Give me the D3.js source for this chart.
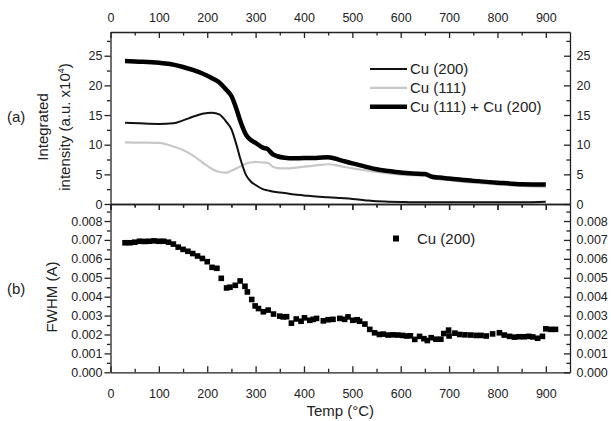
<!DOCTYPE html>
<html>
<head>
<meta charset="utf-8">
<script src="https://cdn.jsdelivr.net/npm/d3@7"></script>
<style>
  body { margin: 0; background: #fff; }
  svg { font-family: "Liberation Sans", Arial, sans-serif; }
  .axis text { font-size: 12.5px; fill: #222; }
  .axis path, .axis line { stroke: #222; stroke-width: 1.3; }
</style>
</head>
<body>
<svg width="611" height="421"></svg>
<script>
// top panel: integrated intensity (a.u. x10^4) vs temperature
const temps = [30, 60, 100, 130, 150, 170, 190, 210, 225, 240, 250, 260, 270, 280, 290, 300, 315, 325, 335, 345,
               360, 380, 400, 425, 450, 475, 500, 525, 550, 575, 600, 625, 650, 665, 680, 700, 750, 800, 850, 900];
const cu200 = [13.7, 13.6, 13.5, 13.6, 14.1, 14.7, 15.2, 15.4, 15.1, 13.8, 12.6, 10.1, 7.2, 4.9, 3.8, 3.2, 2.5, 2.3, 2.1, 2.0,
               1.85, 1.6, 1.45, 1.25, 1.15, 1.0, 0.85, 0.65, 0.45, 0.4, 0.35, 0.3, 0.3, 0.3, 0.3, 0.3, 0.3, 0.3, 0.3, 0.4];
const cu111 = [10.4, 10.35, 10.3, 9.7, 9.1, 8.2, 7.0, 5.9, 5.4, 5.3, 5.6, 6.0, 6.4, 6.8, 7.0, 7.1, 7.0, 6.95, 6.3, 6.05,
               6.0, 6.1, 6.3, 6.5, 6.7, 6.4, 6.0, 5.7, 5.4, 5.15, 4.95, 4.85, 4.75, 4.3, 4.15, 4.0, 3.6, 3.3, 3.05, 2.9];
const cuSum = [24.1, 24.0, 23.8, 23.5, 23.1, 22.6, 22.0, 21.2, 20.5, 19.2, 18.2, 16.1, 13.6, 11.7, 10.8, 10.3, 9.5, 9.25, 8.4, 8.05,
               7.8, 7.7, 7.75, 7.75, 7.9, 7.4, 6.85, 6.35, 5.85, 5.55, 5.3, 5.15, 5.05, 4.6, 4.45, 4.3, 3.9, 3.6, 3.35, 3.3];

// bottom panel: FWHM of Cu (200)
const fwhmTemps = [30, 40, 50, 60, 70, 80, 90, 100, 110, 120, 130, 140, 150, 160, 170, 180, 190, 200, 210, 220,
                   229, 240, 247, 258, 268, 278, 283, 292, 299, 306, 316, 326, 337, 350, 357, 364, 374, 384, 394, 401,
                   412, 419, 426, 440, 450, 460, 474, 484, 491, 501, 510, 515, 526, 536, 546, 556, 564, 574, 584, 594,
                   604, 612, 620, 629, 639, 648, 655, 663, 673, 683, 689, 699, 700, 712, 722, 733, 745, 756, 766, 777,
                   790, 804, 814, 825, 835, 845, 855, 865, 873, 883, 893, 900, 910, 920];
const fwhm = [0.00685, 0.00685, 0.00688, 0.00693, 0.00692, 0.00693, 0.00695, 0.00693, 0.00693, 0.00688, 0.00678, 0.00662, 0.0065, 0.0064, 0.00628, 0.00615, 0.00602, 0.00585, 0.00555, 0.0055,
              0.00497, 0.00446, 0.0045, 0.0046, 0.00483, 0.00455, 0.00425, 0.00385, 0.00351, 0.00337, 0.0032, 0.00329, 0.00308, 0.00297, 0.00293, 0.00294, 0.0026, 0.00282, 0.0027, 0.00288,
              0.00275, 0.0028, 0.00285, 0.00272, 0.00278, 0.0028, 0.00285, 0.0028, 0.00293, 0.00275, 0.00278, 0.0027, 0.00255, 0.00227, 0.00209, 0.002, 0.00202, 0.00197, 0.00198, 0.00197,
              0.00195, 0.00192, 0.00193, 0.00174, 0.0019, 0.00178, 0.00168, 0.00183, 0.00175, 0.00175, 0.00205, 0.00223, 0.00192, 0.00207, 0.002, 0.00198, 0.00197, 0.00195, 0.00195, 0.00192,
              0.00203, 0.00209, 0.00197, 0.0019, 0.00186, 0.00188, 0.00188, 0.0019, 0.00187, 0.0018, 0.0019, 0.0023, 0.00227, 0.00227];

const xMajor = [0, 100, 200, 300, 400, 500, 600, 700, 800, 900];
const xMinor = [50, 150, 250, 350, 450, 550, 650, 750, 850];
const yTopMajor = [0, 5, 10, 15, 20, 25];
const yTopMinor = [2.5, 7.5, 12.5, 17.5, 22.5, 27.5];
const yBotMajor = [0, 0.001, 0.002, 0.003, 0.004, 0.005, 0.006, 0.007, 0.008];
const yBotMinor = [0.0005, 0.0015, 0.0025, 0.0035, 0.0045, 0.0055, 0.0065, 0.0075, 0.0085];

const svg = d3.select("svg");

const left = 110.5, right = 570;
const x = d3.scaleLinear().domain([0, 950]).range([left, right]);
const yTop = d3.scaleLinear().domain([0, 29]).range([204, 32]);
const yBot = d3.scaleLinear().domain([0, 0.0089]).range([372.3, 204]);

// helper to draw a major + minor axis pair
function axisPair(axisFn, scale, major, minor, size, pad, fmt, tr, labels) {
    const g = svg.append("g").attr("class", "axis").attr("transform", tr);
    g.call(axisFn(scale).tickValues(major).tickSize(size).tickSizeOuter(0).tickPadding(pad)
        .tickFormat(labels ? fmt : () => ""));
    svg.append("g").attr("class", "axis").attr("transform", tr)
        .call(axisFn(scale).tickValues(minor).tickSize(size * 0.6).tickSizeOuter(0).tickFormat(() => ""))
        .select(".domain").remove();
    return g;
}

const fmtInt = d3.format("d"), fmt3 = d3.format(".3f");

// top panel axes
axisPair(d3.axisTop, x, xMajor, xMinor, -6, 10.5, fmtInt, `translate(0,${yTop.range()[1]})`, true);
axisPair(d3.axisBottom, x, xMajor, xMinor, 6, 3, fmtInt, `translate(0,${yTop.range()[0]})`, false);
axisPair(d3.axisLeft, yTop, yTopMajor, yTopMinor, 6, 2, fmtInt, `translate(${left},0)`, true);
axisPair(d3.axisRight, yTop, yTopMajor, yTopMinor, -6, 6.5, fmtInt, `translate(${right},0)`, true);

// bottom panel axes
axisPair(d3.axisTop, x, xMajor, xMinor, -6, 3, fmtInt, `translate(0,${yBot.range()[1]})`, false);
axisPair(d3.axisBottom, x, xMajor, xMinor, -6, 17, fmtInt, `translate(0,${yBot.range()[0]})`, true);
axisPair(d3.axisLeft, yBot, yBotMajor, yBotMinor, 6, 2, fmt3, `translate(${left},0)`, true);
axisPair(d3.axisRight, yBot, yBotMajor, yBotMinor, -6, 6.5, fmt3, `translate(${right},0)`, true);

// lines
const series = [
    {name: "Cu (200)", vals: cu200, color: "#111", width: 2},
    {name: "Cu (111)", vals: cu111, color: "#c8c8c8", width: 2.2},
    {name: "Cu (111) + Cu (200)", vals: cuSum, color: "#000", width: 4.5}
];
const line = d3.line().curve(d3.curveMonotoneX);

svg.append("g").selectAll("path")
    .data([series[1], series[0], series[2]])
    .join("path")
    .attr("fill", "none")
    .attr("stroke", d => d.color)
    .attr("stroke-width", d => d.width)
    .attr("stroke-linejoin", "round")
    .attr("d", d => line(temps.map((t, i) => [x(t), yTop(d.vals[i])])));

// top legend
const leg = svg.append("g");
series.forEach((s, i) => {
    const yy = 69 + i * 18.9;
    leg.append("line").attr("x1", 370).attr("x2", 407).attr("y1", yy).attr("y2", yy)
        .attr("stroke", s.color).attr("stroke-width", s.width);
    leg.append("text").attr("x", 410).attr("y", yy).attr("dy", "0.36em")
        .attr("font-size", 15).attr("fill", "#222").text(s.name);
});

// FWHM scatter
const sq = 5.6;
svg.append("g").selectAll("rect")
    .data(fwhmTemps.map((t, i) => [t, fwhm[i]]))
    .join("rect")
    .attr("x", d => x(d[0]) - sq / 2)
    .attr("y", d => yBot(d[1]) - sq / 2)
    .attr("width", sq).attr("height", sq)
    .attr("fill", "#000");

// bottom legend
svg.append("rect").attr("x", 396 - 3).attr("y", 238.5 - 3).attr("width", 6).attr("height", 6).attr("fill", "#000");
svg.append("text").attr("x", 417).attr("y", 238.5).attr("dy", "0.36em")
    .attr("font-size", 15).attr("fill", "#222").text("Cu (200)");

// axis titles
svg.append("text").attr("x", (left + right) / 2).attr("y", 416).attr("text-anchor", "middle")
    .attr("font-size", 15).attr("fill", "#222").text("Temp (°C)");

svg.append("text").attr("transform", "translate(47.5,127) rotate(-90)").attr("text-anchor", "middle")
    .attr("font-size", 15).attr("fill", "#222").text("Integrated");
const t2 = svg.append("text").attr("transform", "translate(69.5,127) rotate(-90)").attr("text-anchor", "middle")
    .attr("font-size", 15).attr("fill", "#222");
t2.append("tspan").text("intensity (a.u. x10");
t2.append("tspan").attr("font-size", 9).attr("dy", -6).text("4");
t2.append("tspan").attr("dy", 6).text(")");

svg.append("text").attr("transform", "translate(57,297) rotate(-90)").attr("text-anchor", "middle")
    .attr("font-size", 15).attr("fill", "#222").text("FWHM (A)");

svg.append("text").attr("x", 7).attr("y", 122).attr("font-size", 15).attr("fill", "#222").text("(a)");
svg.append("text").attr("x", 7).attr("y", 294).attr("font-size", 15).attr("fill", "#222").text("(b)");
</script>
</body>
</html>
